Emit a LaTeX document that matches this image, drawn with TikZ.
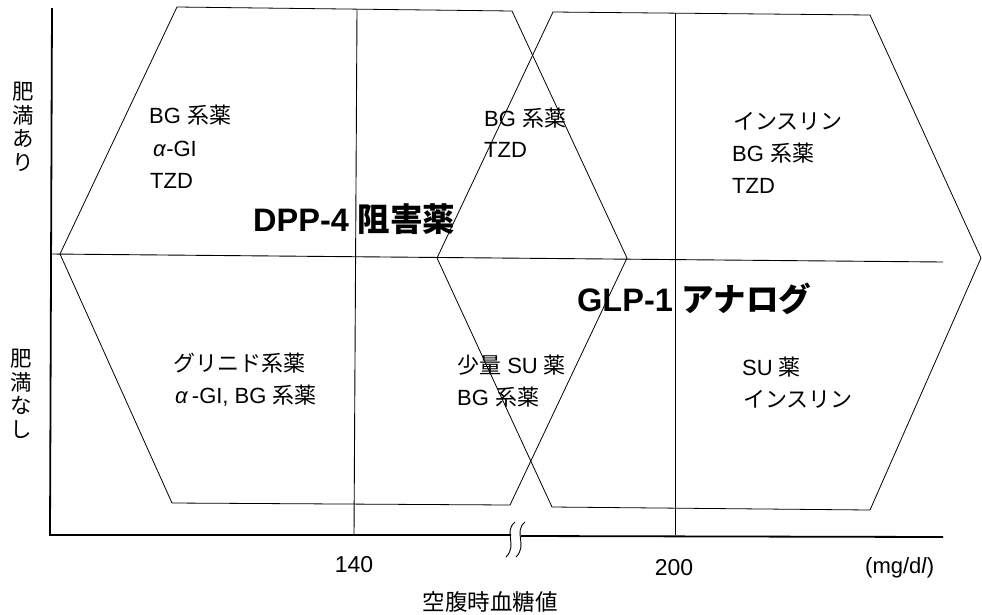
\documentclass[tikz,border=0pt]{standalone}
\usepackage{fontspec}
\setmainfont{Liberation Sans}
\newfontfamily\jpfont{Noto Sans CJK JP}
\newcommand{\jtxt}[1]{{\jpfont #1}}
\begin{document}
\begin{tikzpicture}[x=1pt,y=-1pt,
  hexline/.style={line width=0.8pt,line join=miter},
  gridline/.style={line width=0.9pt},
  axisline/.style={line width=1.8pt},
  lbl/.style={inner sep=0pt,anchor=base west,font=\fontsize{22}{22}\selectfont},
  big/.style={inner sep=0pt,anchor=base west,font=\fontsize{32.5}{33}\selectfont\bfseries},
  tick/.style={inner sep=0pt,anchor=base,font=\fontsize{23}{24}\selectfont},
  vlbl/.style={inner sep=0pt,anchor=north,align=center,font=\fontsize{21.5}{23.5}\selectfont\jpfont}]
\useasboundingbox (0,0) rectangle (982,614);
% grid lines
\draw[gridline] (357,10) -- (354,535);
\draw[gridline] (675,13) -- (675,535);
\draw[gridline] (52,254) -- (943,262);
% DPP-4 hexagon
\draw[hexline] (60,254) -- (177,7) -- (512,11) -- (627,258) -- (510,505) -- (172,503) -- cycle;
% GLP-1 hexagon
\draw[hexline] (437,258) -- (553,12) -- (870,15) -- (981,258) -- (870,510) -- (552,507) -- cycle;
% axes
\draw[axisline] (52,8) -- (50,535) -- (511,535);
\draw[axisline] (521,536) -- (943,537);
% break mark
\draw[line width=0.9pt] (515,522) .. controls (503,532) and (518,545) .. (506,557);
\draw[line width=0.9pt] (525,522) .. controls (513,532) and (528,545) .. (516,557);
% labels upper
\node[lbl] (a1) at (149,123) {BG \jtxt{系薬}};
\node[lbl] (a2) at (153,156) {\textit{α}-GI};
\node[lbl] (a3) at (150,188) {TZD};
\node[big] (dpp) at (253,231) {DPP-4 \jtxt{阻害薬}};
\node[lbl] (b1) at (484,126) {BG \jtxt{系薬}};
\node[lbl] (b2) at (484,157) {TZD};
\node[lbl] (c1) at (733,129) {\jtxt{インスリン}};
\node[lbl] (c2) at (732,161) {BG \jtxt{系薬}};
\node[lbl] (c3) at (732,193) {TZD};
\node[big] (glp) at (577,311) {GLP-1 \jtxt{アナログ}};
% labels lower
\node[lbl] (d1) at (173,371) {\jtxt{グリニド系薬}};
\node[lbl] (d2) at (175,403) {\textit{α}\,-GI, BG \jtxt{系薬}};
\node[lbl] (e1) at (457,373) {\jtxt{少量} SU \jtxt{薬}};
\node[lbl] (e2) at (457,405) {BG \jtxt{系薬}};
\node[lbl] (f1) at (742,375) {SU \jtxt{薬}};
\node[lbl] (f2) at (743,407) {\jtxt{インスリン}};
% axis labels
\node[vlbl] (y1) at (23,82) {肥\\満\\あ\\り};
\node[vlbl] (y2) at (21,349) {肥\\満\\な\\し};
\node[tick] (t140) at (354,572) {140};
\node[tick] (t200) at (674,575) {200};
\node[inner sep=0pt,anchor=base west,font=\fontsize{22}{24}\selectfont] (unit) at (865,573) {(mg/d\textit{l})};
\node[inner sep=0pt,anchor=base,font=\fontsize{22.5}{24}\selectfont\jpfont] (xl) at (490,610) {空腹時血糖値};
\end{tikzpicture}
\end{document}
